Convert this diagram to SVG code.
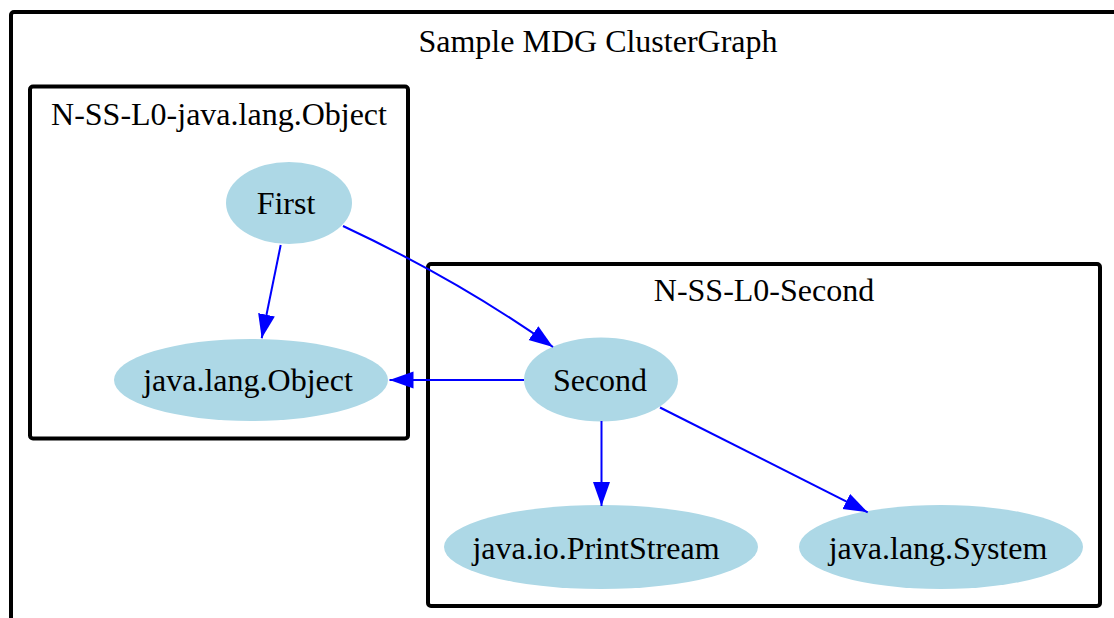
<svg xmlns="http://www.w3.org/2000/svg" width="1114" height="618" viewBox="0 0 1114 618">
<style>
.cluster{fill:none;stroke:#000;stroke-width:4;}
.node ellipse{fill:#add8e6;stroke:none;}
text{font-family:"Liberation Serif","Times New Roman",serif;font-size:32px;fill:#000;text-anchor:middle;}
.edge{fill:none;stroke:#0000ff;stroke-width:2;marker-end:url(#arrow);}
</style>
<defs>
<marker id="arrow" markerUnits="userSpaceOnUse" markerWidth="26" markerHeight="18" refX="24" refY="8.5" orient="auto" viewBox="0 0 26 18">
<path d="M0,0 L24,8.5 L0,17 z" fill="#0000ff"/>
</marker>
</defs>
<rect width="1114" height="618" fill="#fff"/>
<g id="cluster-main">
<rect class="cluster" x="11" y="12" width="1200" height="700" rx="3"/>
<text x="598" y="52">Sample MDG ClusterGraph</text>
</g>
<g id="cluster-object">
<rect class="cluster" x="30" y="86.5" width="378" height="352" rx="3"/>
<text x="219" y="125">N-SS-L0-java.lang.Object</text>
</g>
<g id="cluster-second">
<rect class="cluster" x="428" y="264" width="672" height="342" rx="3"/>
<text x="764" y="301">N-SS-L0-Second</text>
</g>
<g id="node-first" class="node">
<ellipse cx="289" cy="203" rx="63" ry="41"/>
<text x="286" y="214">First</text>
</g>
<g id="node-object" class="node">
<ellipse cx="251" cy="380" rx="137" ry="41"/>
<text x="248" y="391">java.lang.Object</text>
</g>
<g id="node-second" class="node">
<ellipse cx="601" cy="379.5" rx="77" ry="42"/>
<text x="600" y="391">Second</text>
</g>
<g id="node-printstream" class="node">
<ellipse cx="601" cy="547" rx="157" ry="42"/>
<text x="596" y="559">java.io.PrintStream</text>
</g>
<g id="node-system" class="node">
<ellipse cx="941" cy="547" rx="142" ry="42"/>
<text x="938" y="559">java.lang.System</text>
</g>
<g id="connectors">
<path class="edge" d="M280.7,245 L261.7,338.3"/>
<path class="edge" d="M343,226 C390,248 470,288 553,347"/>
<path class="edge" d="M524,380 L389.5,380"/>
<path class="edge" d="M601.5,421 L601.5,506"/>
<path class="edge" d="M660,407.5 L867.7,512.3"/>
</g>
</svg>
